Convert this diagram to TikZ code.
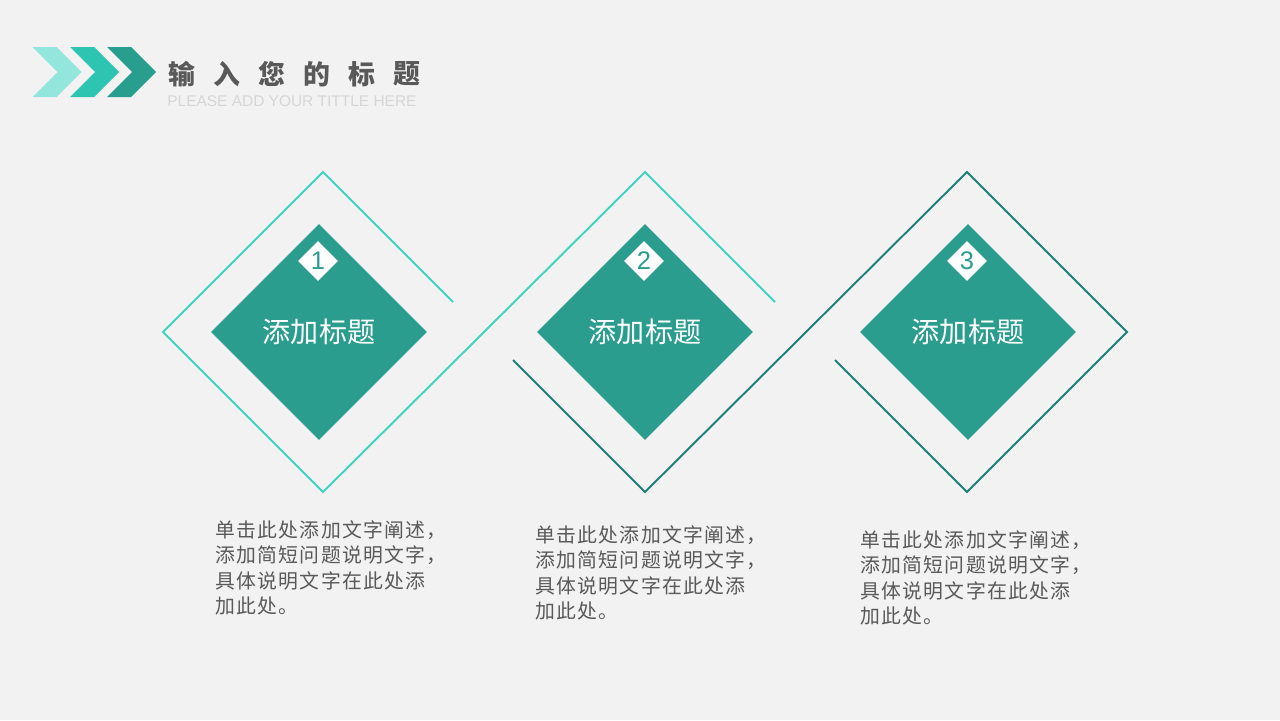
\documentclass[tikz,border=0pt]{standalone}
\usepackage{fontspec}
\setmainfont{Liberation Sans}
\newfontfamily\cjk{Noto Sans CJK SC}
\newfontfamily\cjkwide[LetterSpace=6.5]{Noto Sans CJK SC}
\usetikzlibrary{shapes.geometric, calc}
\definecolor{bgGray}{HTML}{F2F2F2}
\definecolor{tealFill}{HTML}{2A9D8F}
\definecolor{tealLight}{HTML}{3DD5C2}
\definecolor{tealDark}{HTML}{1D7F7A}
\definecolor{chevA}{HTML}{93E6DC}
\definecolor{chevB}{HTML}{2EC4B2}
\definecolor{chevC}{HTML}{289E8F}
\definecolor{textGray}{HTML}{595959}
\definecolor{subGray}{HTML}{D6D6D6}
\tikzset{
  bigdiamond/.style={diamond, fill=tealFill, inner sep=0pt, minimum size=4.32cm, text=white, font=\cjk\fontsize{16}{18}\selectfont},
  numdiamond/.style={diamond, fill=white, inner sep=0pt, minimum size=0.8cm, text=tealFill, font=\fontsize{14.5}{16}\selectfont},
  outline/.style={line width=1.1pt},
  titlechar/.style={inner sep=0pt, text=textGray, font=\cjk\bfseries\fontsize{15.3}{18}\selectfont},
  bodytext/.style={anchor=north west, inner sep=0pt, align=left, text=textGray, font=\cjkwide\fontsize{11.3}{14.5}\selectfont}
}
\begin{document}
\begin{tikzpicture}[x=0.02cm, y=-0.02cm]
    \fill[bgGray] (0,0) rectangle (1280,720);
    \useasboundingbox (0,0) rectangle (1280,720);
    \foreach \x/\c in {32.5/chevA, 70/chevB, 107/chevC}
        \fill[\c] (\x,47) -- ++(24,0) -- ++(25,25) -- ++(-25,25) -- ++(-24,0) -- ++(25,-25) -- cycle;
    \foreach \c [count=\i] in {输,入,您,的,标,题}
        \node[titlechar] (t\i) at ({181.5+45*(\i-1)},74) {\c};
    \node[anchor=base west, inner sep=0pt, text=subGray, font=\fontsize{8.8}{10}\selectfont] (sub) at (167,106.5) {PLEASE ADD YOUR TITTLE HERE};
    \foreach \i/\cx in {1/323, 2/645, 3/967}
        \coordinate (o\i) at (\cx,332);
    \draw[outline, tealLight] ($(o1)+(130,-30)$) -- ($(o1)+(0,-160)$) -- ($(o1)+(-160,0)$) -- ($(o1)+(0,160)$) -- ($(o2)+(0,-160)$) -- ($(o2)+(130,-30)$);
    \draw[outline, tealDark] ($(o2)+(-132,28)$) -- ($(o2)+(0,160)$) -- ($(o3)+(0,-160)$) -- ($(o3)+(160,0)$) -- ($(o3)+(0,160)$) -- ($(o3)+(-132,28)$);
    \foreach \i/\cx in {1/319, 2/645, 3/968} {
        \node[bigdiamond] (d\i) at (\cx,332) {添加标题};
        \node[numdiamond] (n\i) at ({\cx-1},261) {\i};
    }
    \foreach \i/\x/\y in {1/215/520, 2/535/525, 3/860/530}
        \node[bodytext] (b\i) at (\x,\y) {单击此处添加文字阐述，\\添加简短问题说明文字，\\具体说明文字在此处添\\加此处。};
\end{tikzpicture}
\end{document}
